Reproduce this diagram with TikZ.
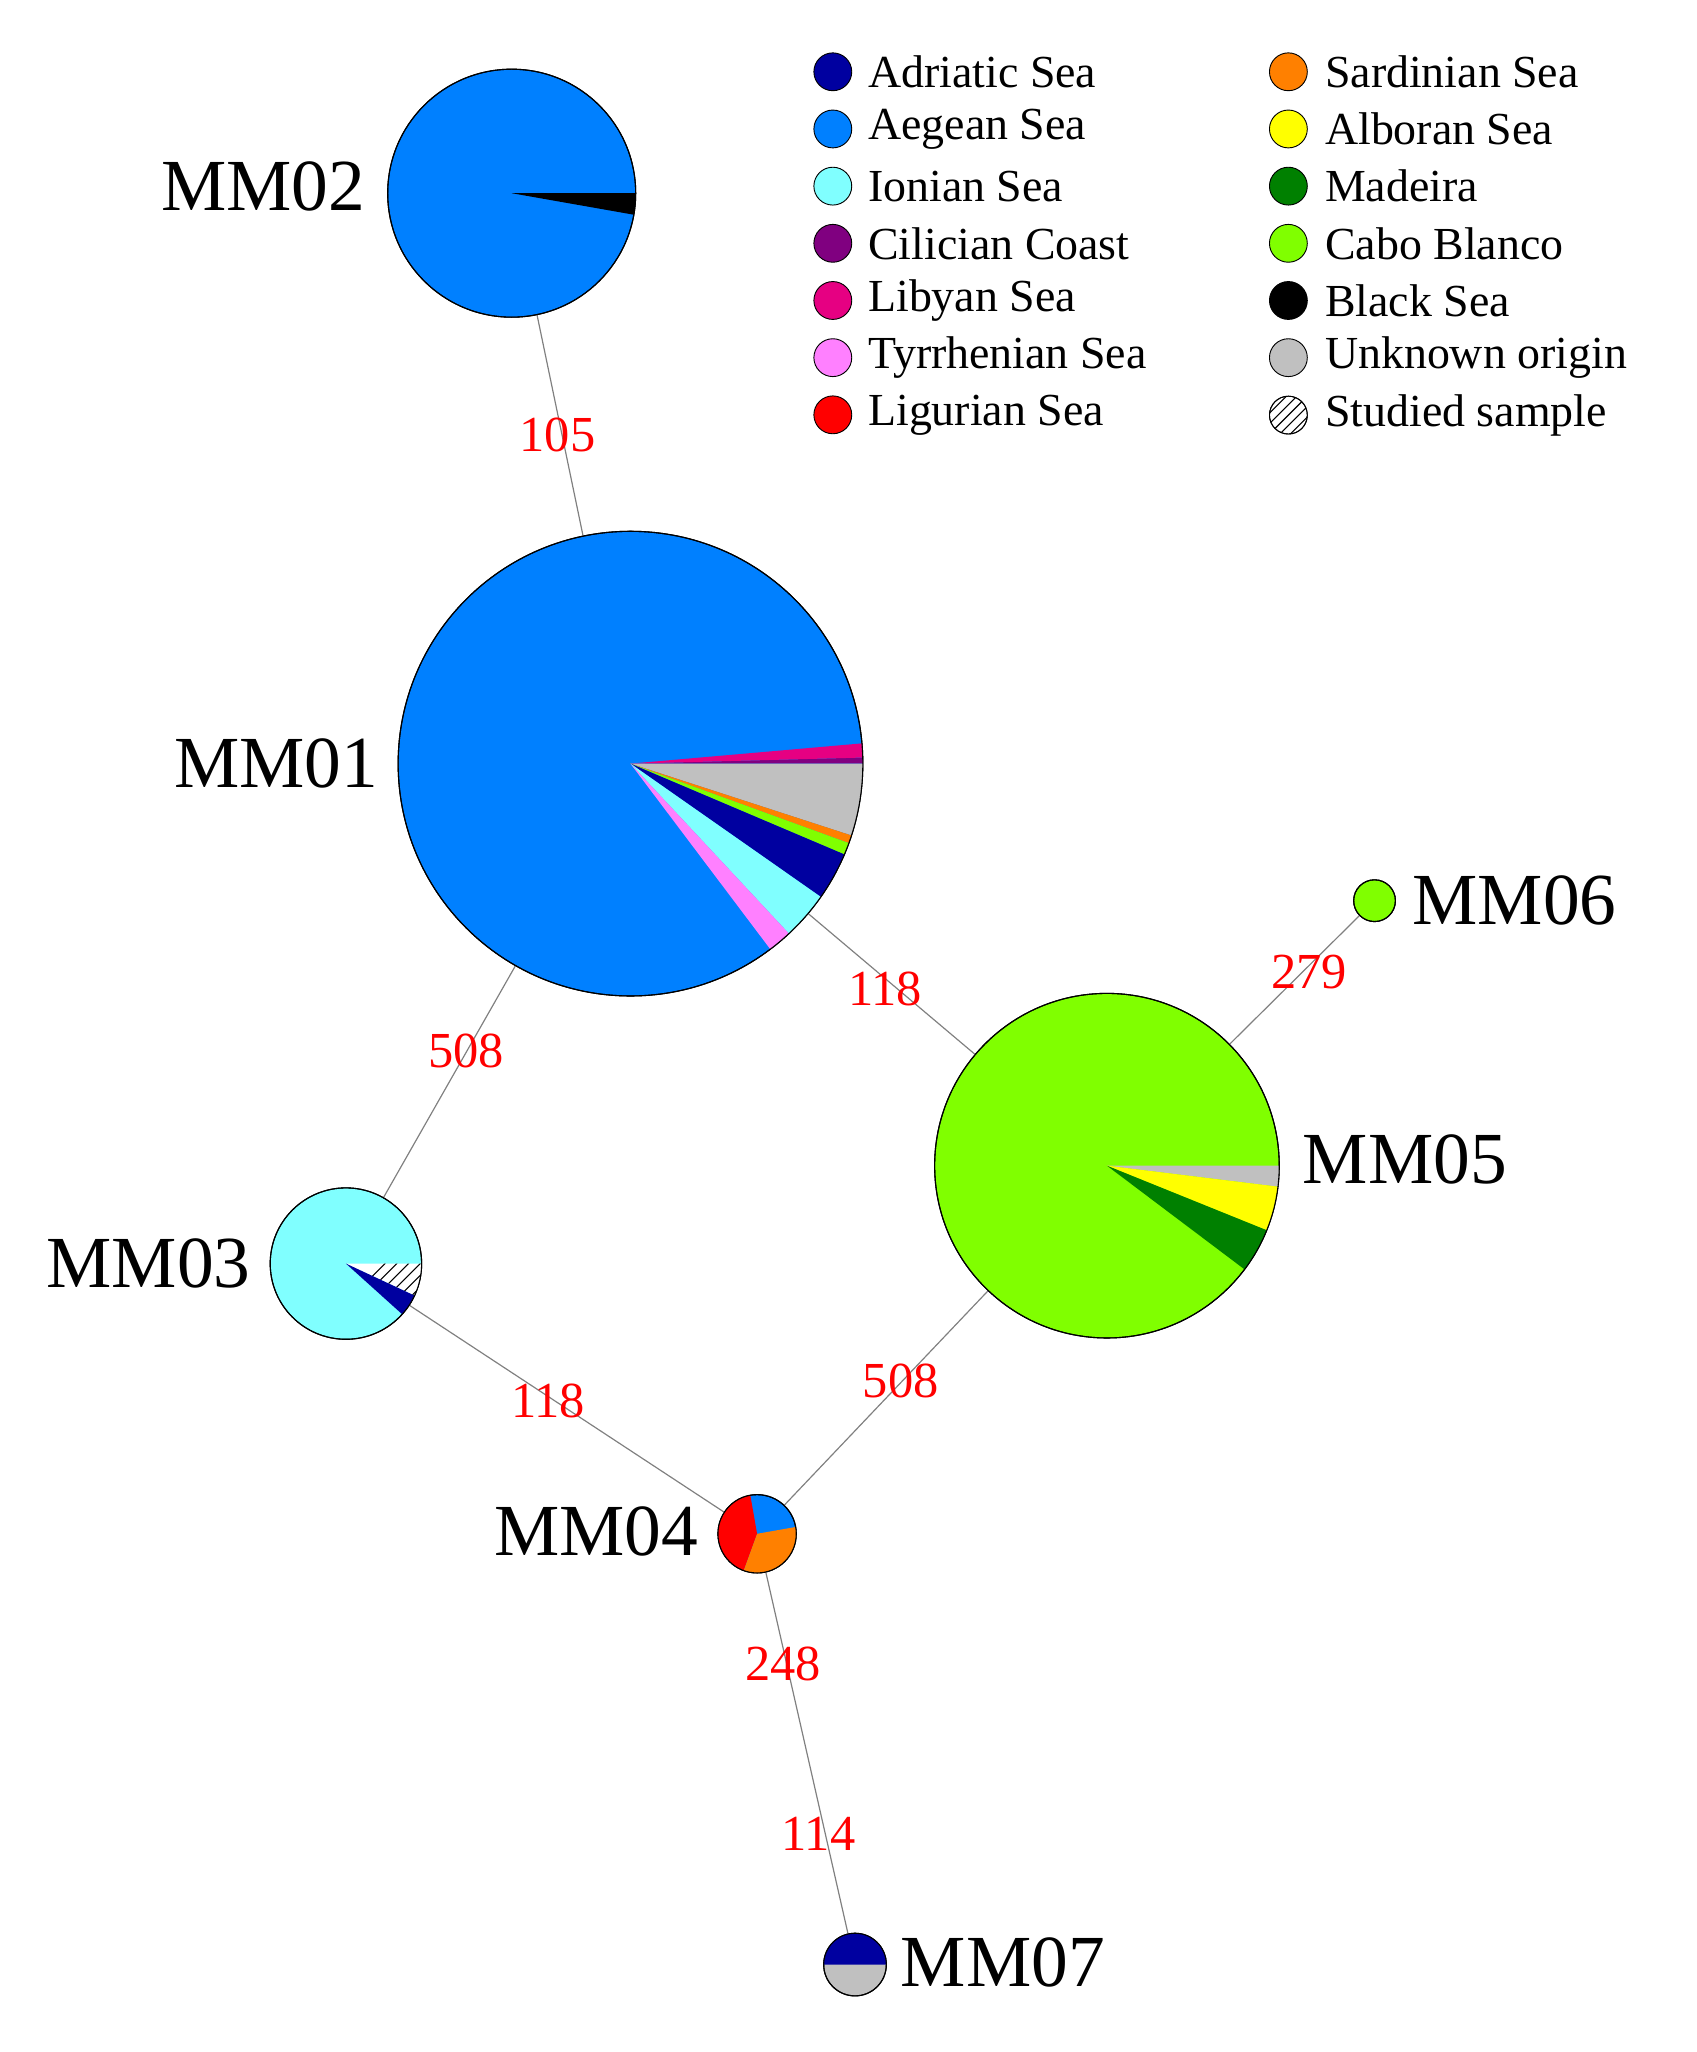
\documentclass[tikz,border=0pt]{standalone}
\usepackage{fontspec}
\setmainfont{Liberation Serif}
\usetikzlibrary{calc}
\definecolor{adr}{RGB}{0,0,160}
\definecolor{aeg}{RGB}{0,128,255}
\definecolor{ion}{RGB}{128,255,255}
\definecolor{cil}{RGB}{128,0,128}
\definecolor{lib}{RGB}{230,0,130}
\definecolor{tyr}{RGB}{255,128,255}
\definecolor{lig}{RGB}{255,0,0}
\definecolor{sar}{RGB}{255,128,0}
\definecolor{alb}{RGB}{255,255,0}
\definecolor{mad}{RGB}{0,128,0}
\definecolor{cab}{RGB}{128,255,0}
\definecolor{unk}{RGB}{192,192,192}
\definecolor{lbl}{RGB}{255,0,0}
\newcommand{\pslice}[5]{\fill[#5] (#1) -- ++(#3:#2) arc (#3:#4:#2) -- cycle;}
\begin{document}
\begin{tikzpicture}[x=0.05cm,y=0.05cm,
  hap/.style={circle,draw=black,line width=1.2pt,inner sep=0pt},
  edge/.style={draw=gray,line width=1.3pt},
  elab/.style={text=lbl,font=\fontsize{55}{55}\selectfont,inner sep=0pt},
  mlab/.style={font=\fontsize{80}{80}\selectfont,inner sep=0pt},
  leg/.style={font=\fontsize{50}{50}\selectfont,inner sep=0pt,anchor=west},
  dot/.style={circle,draw=black,line width=1pt,minimum size=1.45cm,inner sep=0pt}]
\useasboundingbox (0,0) rectangle (1300,-1572);
% nodes
\node[hap,fill=aeg,minimum size=9.5cm] (m2) at (392,-148) {};
\node[hap,fill=aeg,minimum size=17.8cm] (m1) at (483,-585) {};
\node[hap,fill=ion,minimum size=5.8cm] (m3) at (265,-968) {};
\node[hap,fill=aeg,minimum size=3cm] (m4) at (580,-1175) {};
\node[hap,fill=cab,minimum size=13.2cm] (m5) at (848,-893) {};
\node[hap,fill=cab,minimum size=1.6cm] (m6) at (1053,-690) {};
\node[hap,fill=unk,minimum size=2.4cm] (m7) at (655,-1505) {};
% edges
\draw[edge] (m2) -- (m1);
\draw[edge] (m1) -- (m5);
\draw[edge] (m1) -- (m3);
\draw[edge] (m5) -- (m6);
\draw[edge] (m3) -- (m4);
\draw[edge] (m5) -- (m4);
\draw[edge] (m4) -- (m7);
% slices
\pslice{m2.center}{95}{-10}{0}{black}
\pslice{m1.center}{178}{0}{1.5}{cil}
\pslice{m1.center}{178}{1.5}{5}{lib}
\pslice{m1.center}{178}{-18}{0}{unk}
\pslice{m1.center}{178}{-20}{-18}{sar}
\pslice{m1.center}{178}{-23}{-20}{cab}
\pslice{m1.center}{178}{-35}{-23}{adr}
\pslice{m1.center}{178}{-47}{-35}{ion}
\pslice{m1.center}{178}{-53}{-47}{tyr}
\begin{scope}
\clip (m3.center) -- ++(-25:58) arc (-25:0:58) -- cycle;
\fill[white] (m3.center) circle (58);
\foreach \k in {0,...,8}{\draw[line width=1.2pt] ($(m3.center)+(\k*9-10,-40)$) -- ++(45:80);}
\end{scope}
\pslice{m3.center}{58}{-42}{-25}{adr}
\pslice{m4.center}{30}{100}{250}{lig}
\pslice{m4.center}{30}{250}{370}{sar}
\pslice{m5.center}{132}{-7}{0}{unk}
\pslice{m5.center}{132}{-22}{-7}{alb}
\pslice{m5.center}{132}{-37}{-22}{mad}
\pslice{m7.center}{24}{0}{180}{adr}
\foreach \n/\r in {m1/178,m2/95,m3/58,m4/30,m5/132,m6/16,m7/24}{\draw[line width=1.2pt] (\n.center) circle (\r);}
% haplotype labels
\node[mlab,anchor=east] (l2) at (280,-143) {MM02};
\node[mlab,anchor=east] (l1) at (290,-585) {MM01};
\node[mlab,anchor=east] (l3) at (192,-968) {MM03};
\node[mlab,anchor=east] (l4) at (535,-1173) {MM04};
\node[mlab,anchor=west] (l5) at (998,-888) {MM05};
\node[mlab,anchor=west] (l6) at (1082,-690) {MM06};
\node[mlab,anchor=west] (l7) at (690,-1503) {MM07};
% edge labels
\node[elab] (e1) at (427,-333) {105};
\node[elab] (e2) at (678,-758) {118};
\node[elab] (e3) at (357,-805) {508};
\node[elab] (e4) at (1003,-745) {279};
\node[elab] (e5) at (420,-1073) {118};
\node[elab] (e6) at (690,-1058) {508};
\node[elab] (e7) at (600,-1275) {248};
\node[elab] (e8) at (627,-1405) {114};
% legend
\foreach \c/\t [count=\i] in {adr/Adriatic Sea,aeg/Aegean Sea,ion/Ionian Sea,cil/Cilician Coast,lib/Libyan Sea,tyr/Tyrrhenian Sea,lig/Ligurian Sea}{
  \node[dot,fill=\c] (a\i) at (638,{-55-43.8*(\i-1)}) {};
  \node[leg] (at\i) at (665,{-55-43.8*(\i-1)}) {\t};}
\foreach \c/\t [count=\i] in {sar/Sardinian Sea,alb/Alboran Sea,mad/Madeira,cab/Cabo Blanco,black/Black Sea,unk/Unknown origin}{
  \node[dot,fill=\c] (b\i) at (987,{-55-43.8*(\i-1)}) {};
  \node[leg] (bt\i) at (1015,{-55-43.8*(\i-1)}) {\t};}
\node[dot,fill=white] (b7) at (987,-318) {};
\begin{scope}
\clip (b7.center) circle (14.5);
\foreach \k in {-2,...,2}{\draw[line width=1.2pt] ($(b7.center)+(\k*8,0)+(-135:30)$) -- ++(45:60);}
\end{scope}
\draw[line width=1pt] (b7.center) circle (14.5);
\node[leg] (bt7) at (1015,-318) {Studied sample};
\end{tikzpicture}
\end{document}
